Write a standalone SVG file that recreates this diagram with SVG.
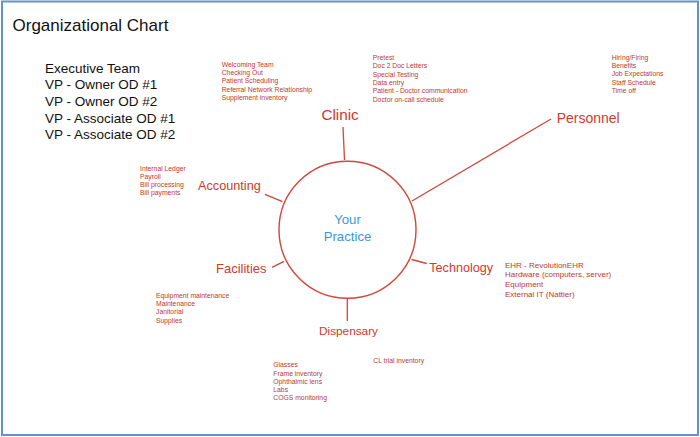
<svg xmlns="http://www.w3.org/2000/svg" width="700" height="437" viewBox="0 0 700 437">
<style>
text{font-family:"Liberation Sans",Arial,Helvetica,sans-serif}
.ttl{font-size:17px;fill:#111}
.ex{font-size:13.5px;fill:#111}
.lbl{fill:#d3382b}
.det{font-size:6.8px;fill:#c0392b}
.det8{font-size:8px;fill:#c0392b}
.ctr{font-size:13.2px;fill:#3b97d9;text-anchor:middle}
.con{stroke:#d3463a;stroke-width:1.3;fill:none}
</style>
<rect x="0" y="0" width="700" height="437" fill="#fff"/>
<rect x="2" y="1.5" width="696" height="433.5" fill="none" stroke="#6592cc" stroke-width="2"/>
<text class="ttl" x="12.5" y="31">Organizational Chart</text>
<g id="exec">
<text class="ex" x="45" y="72.7">Executive Team</text>
<text class="ex" x="45" y="89.3">VP - Owner OD #1</text>
<text class="ex" x="45" y="106">VP - Owner OD #2</text>
<text class="ex" x="45" y="122.7">VP - Associate OD #1</text>
<text class="ex" x="45" y="139.3">VP - Associate OD #2</text>
</g>
<g id="connectors">
<line class="con" x1="343" y1="127" x2="344.5" y2="160"/>
<line class="con" x1="412" y1="201" x2="551" y2="119"/>
<line class="con" x1="265" y1="194.3" x2="282.5" y2="201.7"/>
<line class="con" x1="272" y1="267.3" x2="284" y2="261.3"/>
<line class="con" x1="411.5" y1="259.5" x2="426.7" y2="263.5"/>
<line class="con" x1="347.3" y1="299" x2="347.3" y2="321"/>
</g>
<g id="practice">
<circle cx="347.5" cy="229.8" r="68.5" fill="none" stroke="#d3463a" stroke-width="1.4"/>
<text class="ctr" x="347.5" y="224">Your</text>
<text class="ctr" x="347.5" y="240.7">Practice</text>
</g>
<g id="clinic">
<text class="lbl" x="321.5" y="120" font-size="15.2">Clinic</text>
<text class="det" x="221.7" y="66.7">Welcoming Team</text>
<text class="det" x="221.7" y="75">Checking Out</text>
<text class="det" x="221.7" y="83.3">Patient Scheduling</text>
<text class="det" x="221.7" y="91.7">Referral Network Relationship</text>
<text class="det" x="221.7" y="100">Supplement inventory</text>
<text class="det" x="372.7" y="60">Pretest</text>
<text class="det" x="372.7" y="68.3">Doc 2 Doc Letters</text>
<text class="det" x="372.7" y="76.7">Special Testing</text>
<text class="det" x="372.7" y="85">Data entry</text>
<text class="det" x="372.7" y="93.3">Patient - Doctor communication</text>
<text class="det" x="372.7" y="101.7">Doctor on-call schedule</text>
</g>
<g id="personnel">
<text class="lbl" x="556.7" y="122.5" font-size="14">Personnel</text>
<text class="det" x="611.7" y="60">Hiring/Firing</text>
<text class="det" x="611.7" y="68">Benefits</text>
<text class="det" x="611.7" y="76.3">Job Expectations</text>
<text class="det" x="611.7" y="84.7">Staff Schedule</text>
<text class="det" x="611.7" y="93">Time off</text>
</g>
<g id="accounting">
<text class="lbl" x="198" y="190" font-size="12.7">Accounting</text>
<text class="det" x="140" y="170.7">Internal Ledger</text>
<text class="det" x="140" y="179">Payroll</text>
<text class="det" x="140" y="187.2">Bill processing</text>
<text class="det" x="140" y="195.4">Bill payments</text>
</g>
<g id="technology">
<text class="lbl" x="429.3" y="271.7" font-size="12.6">Technology</text>
<text class="det8" x="505" y="267.7">EHR - RevolutionEHR</text>
<text class="det8" x="505" y="277.3">Hardware (computers, server)</text>
<text class="det8" x="505" y="287">Equipment</text>
<text class="det8" x="505" y="296.7">External IT (Nattier)</text>
</g>
<g id="facilities">
<text class="lbl" x="216" y="273.3" font-size="13">Facilities</text>
<text class="det" x="156" y="297.7">Equipment maintenance</text>
<text class="det" x="156" y="306">Maintenance</text>
<text class="det" x="156" y="314.3">Janitorial</text>
<text class="det" x="156" y="323">Supplies</text>
</g>
<g id="dispensary">
<text class="lbl" x="319" y="335" font-size="11.8">Dispensary</text>
<text class="det" x="273.3" y="367.3">Glasses</text>
<text class="det" x="273.3" y="375.5">Frame inventory</text>
<text class="det" x="273.3" y="383.8">Ophthalmic lens</text>
<text class="det" x="273.3" y="392">Labs</text>
<text class="det" x="273.3" y="400.3">COGS monitoring</text>
<text class="det" x="373.3" y="363.3">CL trial inventory</text>
</g>
</svg>
